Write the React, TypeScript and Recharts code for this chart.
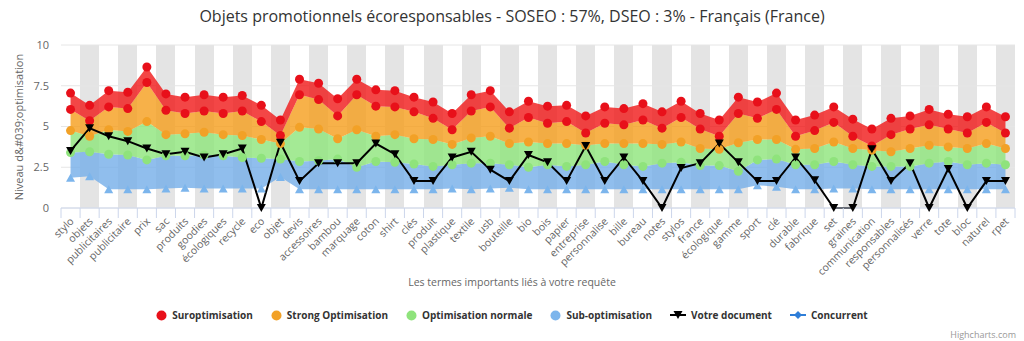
import React from 'react';
import { ComposedChart, Area, Line, XAxis, YAxis, CartesianGrid } from 'recharts';

const categories = [
  'stylo', 'objets', 'publicitaires', 'publicitaire', 'prix', 'sac', 'produits', 'goodies', 'écologiques', 'recycle',
  'eco', 'objet', 'devis', 'accessoires', 'bambou', 'marquage', 'coton', 'shirt', 'clés', 'produit',
  'plastique', 'textile', 'usb', 'bouteille', 'bio', 'bois', 'papier', 'entreprise', 'personnalise', 'bille',
  'bureau', 'notes', 'stylos', 'france', 'écologique', 'gamme', 'sport', 'clé', 'durable', 'fabrique',
  'set', 'graines', 'communication', 'responsables', 'personnalisés', 'verre', 'tote', 'bloc', 'naturel', 'rpet',
];

// upper edge of each band (the lower edge is the next array down)
const suroptimisation = [
  7.05, 6.3, 7.2, 7.1, 8.65, 7.0, 6.8, 6.95, 6.8, 6.9,
  6.3, 5.4, 7.9, 7.65, 6.7, 7.9, 7.25, 7.2, 6.8, 6.5,
  5.8, 6.95, 7.2, 5.9, 6.55, 6.25, 6.3, 5.65, 6.2, 6.1,
  6.4, 5.9, 6.55, 5.8, 5.4, 6.8, 6.5, 7.05, 5.4, 5.7,
  6.2, 5.45, 4.85, 5.5, 5.65, 6.05, 5.75, 5.6, 6.2, 5.6,
];
const strongOptimisation = [
  6.05, 5.35, 6.2, 6.1, 7.7, 6.0, 5.8, 5.95, 5.8, 5.95,
  5.3, 4.45, 6.95, 6.65, 5.65, 6.95, 6.25, 6.2, 5.9, 5.5,
  4.8, 5.95, 6.2, 4.9, 5.55, 5.2, 5.3, 4.6, 5.2, 5.1,
  5.4, 4.9, 5.55, 4.85, 4.4, 5.8, 5.5, 6.05, 4.4, 4.75,
  5.25, 4.4, 3.8, 4.5, 4.85, 5.1, 4.85, 4.6, 5.25, 4.6,
];
const optimisationNormale = [
  4.75, 4.4, 4.8, 4.7, 5.3, 4.5, 4.55, 4.65, 4.5, 4.45,
  4.2, 3.95, 4.95, 4.85, 4.25, 4.8, 4.4, 4.5, 4.25, 4.2,
  3.9, 4.3, 4.4, 3.95, 4.05, 3.95, 3.95, 3.85, 3.95, 3.95,
  3.95, 3.9, 4.05, 3.65, 3.6, 4.0, 4.2, 4.2, 3.6, 3.65,
  4.05, 3.65, 3.55, 3.45, 3.65, 3.85, 3.75, 3.65, 3.95, 3.65,
];
const subOptimisation = [
  3.4, 3.45, 3.3, 3.25, 2.95, 3.2, 3.2, 3.25, 3.2, 3.1,
  3.05, 3.0, 2.85, 2.9, 3.0, 2.5, 2.85, 2.8, 2.7, 2.55,
  2.65, 2.75, 2.75, 2.65, 2.5, 2.65, 2.55, 2.65, 2.85, 2.65,
  2.55, 2.75, 2.8, 2.6, 2.6, 2.25, 2.95, 3.0, 2.65, 2.65,
  2.85, 2.65, 2.55, 2.55, 2.55, 2.75, 2.85, 2.65, 2.75, 2.65,
];
const subOptimisationMin = [
  1.85, 1.95, 1.15, 1.15, 1.15, 1.2, 1.25, 1.2, 1.2, 1.2,
  1.2, 1.9, 1.15, 1.15, 1.15, 1.15, 1.15, 1.15, 1.15, 1.15,
  1.2, 1.15, 1.2, 1.25, 1.15, 1.15, 1.15, 1.15, 1.15, 1.15,
  1.15, 1.15, 1.15, 1.15, 1.15, 1.15, 1.4, 1.3, 1.15, 1.15,
  1.2, 1.2, 1.15, 1.15, 1.15, 1.15, 1.15, 1.15, 1.15, 1.15,
];
const votreDocument = [
  3.5, 4.9, 4.4, 4.1, 3.65, 3.3, 3.45, 3.1, 3.3, 3.65,
  0, 4.0, 1.65, 2.75, 2.75, 2.75, 3.95, 3.3, 1.65, 1.65,
  3.1, 3.45, 2.35, 1.65, 3.25, 2.8, 1.65, 3.8, 1.65, 3.1,
  1.65, 0, 2.45, 2.75, 3.95, 2.8, 1.65, 1.65, 3.1, 1.7,
  0, 0, 3.6, 1.65, 2.75, 0, 2.4, 0, 1.65, 1.65,
];

const data = categories.map((name, i) => ({
  name,
  rouge: [strongOptimisation[i], suroptimisation[i]],
  orange: [optimisationNormale[i], strongOptimisation[i]],
  vert: [subOptimisation[i], optimisationNormale[i]],
  bleu: [subOptimisationMin[i], subOptimisation[i]],
  suroptimisation: suroptimisation[i],
  strongOptimisation: strongOptimisation[i],
  optimisationNormale: optimisationNormale[i],
  subOptimisation: subOptimisation[i],
  subOptimisationMin: subOptimisationMin[i],
  votreDocument: votreDocument[i],
}));

const W = 1024;
const H = 341;
const PLOT_LEFT = 61;
const PLOT_RIGHT = 1015;
const PLOT_BOTTOM = 208;
const BAND = (PLOT_RIGHT - PLOT_LEFT) / categories.length;
const FONT = '"Open Sans", sans-serif';

const RED = '#e8101a';
const ORANGE = '#f2a127';
const GREEN = '#8fe37c';
const BLUE = '#7cb5ec';

const CategoryTick = (props: any) => {
  const { x, y, payload, index } = props;
  const tx = x + 4;
  const ty = y + 6;
  return (
    <g>
      <line x1={x - BAND / 2} y1={PLOT_BOTTOM} x2={x - BAND / 2} y2={PLOT_BOTTOM + 10} stroke="#ccd6eb" />
      {index === categories.length - 1 && (
        <line x1={x + BAND / 2} y1={PLOT_BOTTOM} x2={x + BAND / 2} y2={PLOT_BOTTOM + 10} stroke="#ccd6eb" />
      )}
      <text x={tx} y={ty} textAnchor="end" fill="#666" fontSize={10.5} transform={`rotate(-45, ${tx}, ${ty})`}>
        {payload.value}
      </text>
    </g>
  );
};

const TriangleUp = ({ cx, cy, fill }: any) =>
  cx == null ? null : <path d={`M${cx},${cy - 4} L${cx + 4.5},${cy + 4} L${cx - 4.5},${cy + 4} Z`} fill={fill} />;

const TriangleDown = ({ cx, cy, fill }: any) =>
  cx == null ? null : <path d={`M${cx - 4.5},${cy - 4} L${cx + 4.5},${cy - 4} L${cx},${cy + 4} Z`} fill={fill} />;

const bands = (props: any) => {
  const { offset } = props;
  return categories.map((_, i) => offset.left + i * ((offset.width) / categories.length));
};

const legendItems = [
  { label: 'Suroptimisation', color: RED, kind: 'dot' },
  { label: 'Strong Optimisation', color: ORANGE, kind: 'dot' },
  { label: 'Optimisation normale', color: GREEN, kind: 'dot' },
  { label: 'Sub-optimisation', color: BLUE, kind: 'dot' },
  { label: 'Votre document', color: '#000', kind: 'triangle' },
  { label: 'Concurrent', color: '#2f7ed8', kind: 'diamond' },
];

const LegendIcon = ({ kind, color }: { kind: string; color: string }) => {
  if (kind === 'dot') {
    return (
      <svg width={11} height={11}>
        <circle cx={5.5} cy={5.5} r={5} fill={color} />
      </svg>
    );
  }
  return (
    <svg width={16} height={12}>
      <line x1={0} y1={6} x2={16} y2={6} stroke={color} strokeWidth={2} />
      {kind === 'triangle' ? (
        <path d="M3.5,2 L12.5,2 L8,10 Z" fill={color} />
      ) : (
        <path d="M8,2 L12,6 L8,10 L4,6 Z" fill={color} />
      )}
    </svg>
  );
};

export default function App() {
  return (
    <div style={{ position: 'absolute', left: 0, top: 0, width: W, height: H, background: '#fff', fontFamily: FONT }}>
      <div style={{ position: 'absolute', top: 5, left: 0, width: W, textAlign: 'center', fontSize: 16, color: '#333' }}>
        Objets promotionnels écoresponsables - SOSEO : 57%, DSEO : 3% - Français (France)
      </div>
      <div
        style={{
          position: 'absolute', left: 18, top: 127, fontSize: 11, color: '#666', whiteSpace: 'nowrap',
          transform: 'translate(-50%, -50%) rotate(-90deg)',
        }}
      >
        Niveau d&amp;#039;optimisation
      </div>
      <ComposedChart
        width={W}
        height={H}
        data={data}
        margin={{ top: 45, right: W - PLOT_RIGHT, left: 0, bottom: H - PLOT_BOTTOM - 80 }}
      >
        <CartesianGrid
          horizontal={false}
          vertical
          stroke="none"
          verticalFill={['none', '#e4e4e4']}
          verticalCoordinatesGenerator={bands}
        />
        <CartesianGrid vertical={false} stroke="#e6e6e6" />
        <XAxis
          dataKey="name"
          type="category"
          scale="band"
          interval={0}
          height={80}
          tickLine={false}
          axisLine={{ stroke: '#ccd6eb' }}
          tick={CategoryTick}
        />
        <YAxis
          width={PLOT_LEFT}
          domain={[0, 10]}
          ticks={[0, 2.5, 5, 7.5, 10]}
          axisLine={false}
          tickLine={false}
          tickMargin={6}
          tick={{ fill: '#666', fontSize: 11 }}
        />
        <Area type="linear" dataKey="bleu" fill="#74aee8" fillOpacity={0.8} stroke="none" dot={false} activeDot={false} isAnimationActive={false} />
        <Area type="linear" dataKey="vert" fill="#8de57a" fillOpacity={0.8} stroke="none" dot={false} activeDot={false} isAnimationActive={false} />
        <Area type="linear" dataKey="orange" fill="#f59e1b" fillOpacity={0.8} stroke="none" dot={false} activeDot={false} isAnimationActive={false} />
        <Area type="linear" dataKey="rouge" fill="#f01818" fillOpacity={0.8} stroke="none" dot={false} activeDot={false} isAnimationActive={false} />
        <Line
          dataKey="subOptimisationMin"
          stroke="none"
          dot={(p: any) => <TriangleUp key={p.index} cx={p.cx} cy={p.cy} fill={BLUE} />}
          activeDot={false}
          isAnimationActive={false}
        />
        <Line dataKey="subOptimisation" stroke="none" dot={{ r: 4.5, fill: GREEN, stroke: 'none' }} activeDot={false} isAnimationActive={false} />
        <Line dataKey="optimisationNormale" stroke="none" dot={{ r: 4.5, fill: ORANGE, stroke: 'none' }} activeDot={false} isAnimationActive={false} />
        <Line dataKey="strongOptimisation" stroke="none" dot={{ r: 4.5, fill: RED, stroke: 'none' }} activeDot={false} isAnimationActive={false} />
        <Line dataKey="suroptimisation" stroke="none" dot={{ r: 4.5, fill: RED, stroke: 'none' }} activeDot={false} isAnimationActive={false} />
        <Line
          dataKey="votreDocument"
          stroke="#000"
          strokeWidth={2}
          dot={(p: any) => <TriangleDown key={p.index} cx={p.cx} cy={p.cy} fill="#000" />}
          activeDot={false}
          isAnimationActive={false}
        />
      </ComposedChart>
      <div style={{ position: 'absolute', top: 275, left: 0, width: W, textAlign: 'center', fontSize: 10.5, color: '#666' }}>
        Les termes importants liés à votre requête
      </div>
      <div
        style={{
          position: 'absolute', top: 308, left: 0, width: W, display: 'flex', justifyContent: 'center',
          gap: 18, fontSize: 10, fontWeight: 'bold', color: '#333',
        }}
      >
        {legendItems.map((item) => (
          <div key={item.label} style={{ display: 'flex', alignItems: 'center', gap: 5 }}>
            <LegendIcon kind={item.kind} color={item.color} />
            <span>{item.label}</span>
          </div>
        ))}
      </div>
      <div style={{ position: 'absolute', top: 328, right: 8, fontSize: 9, color: '#999' }}>Highcharts.com</div>
    </div>
  );
}
